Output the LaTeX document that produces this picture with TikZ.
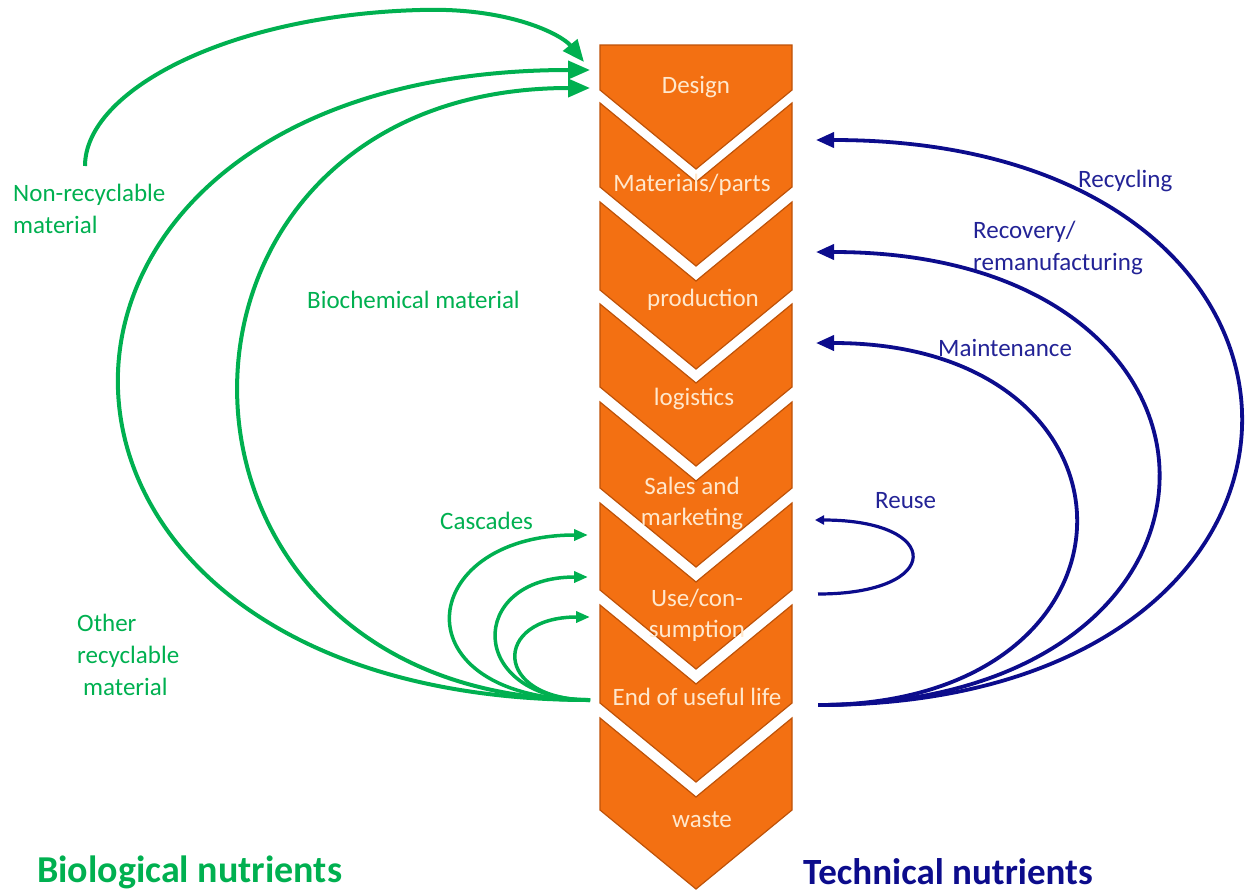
\documentclass[tikz,border=0pt]{standalone}
\usepackage{fontspec}
\setmainfont{Carlito}
\usetikzlibrary{arrows.meta}
\definecolor{chevfill}{RGB}{243,112,18}
\definecolor{chevedge}{RGB}{190,82,8}
\definecolor{chevtext}{RGB}{255,232,205}
\definecolor{bio}{RGB}{0,176,80}
\definecolor{tech}{RGB}{12,12,140}
\definecolor{techtxt}{RGB}{35,35,150}
\begin{document}
\begin{tikzpicture}[x=1pt,y=-1pt,
  chevron/.style={fill=chevfill, draw=chevedge, line width=1.2pt, line join=miter},
  stage/.style={text=chevtext, font=\fontsize{25}{31}\selectfont, align=center, inner sep=0pt},
  biolabel/.style={text=bio, font=\fontsize{25}{32}\selectfont, inner sep=0pt},
  techlabel/.style={text=techtxt, font=\fontsize{25}{32}\selectfont, inner sep=0pt},
  biotitle/.style={text=bio, font=\bfseries\fontsize{38}{44}\selectfont, inner sep=0pt},
  techtitle/.style={text=tech, font=\bfseries\fontsize{37}{44}\selectfont, inner sep=0pt},
  bioflow/.style={draw=bio, line width=4pt, -{Triangle[length=22pt,width=18pt]}},
  casflow/.style={draw=bio, line width=3.5pt, -{Triangle[length=14pt,width=11pt]}},
  techflow/.style={draw=tech, line width=3.8pt, -{Triangle[length=18pt,width=15pt]}},
  reuseflow/.style={draw=tech, line width=3.2pt, -{Triangle[length=9pt,width=9pt]}}
]
\useasboundingbox (0,0) rectangle (1245,892);

% stage column: flat-topped first chevron, then notched chevrons
\path[chevron] (600,45) -- (792,45) -- (792,90) -- (696,169) -- (600,90) -- cycle;
\foreach \ts/\bs in {103/187, 202/290, 304/387, 402/488, 503/590, 605/703, 718/810}{
  \path[chevron] (600,\ts) -- (696,{\ts+79}) -- (792,\ts) -- (792,\bs)
     -- (696,{\bs+79}) -- (600,\bs) -- cycle;
}

% stage names
\node[stage] (design)     at (696,87)  {Design};
\node[stage] (materials)  at (692,185) {Materials/parts};
\node[stage] (production) at (703,300) {production};
\node[stage] (logistics)  at (694,399) {logistics};
\node[stage] (sales)      at (692,503) {Sales and\\marketing};
\node[stage] (use)        at (697,615) {Use/con-\\sumption};
\node[stage] (eol)        at (697,697) {End of useful life};
\node[stage] (waste)      at (702,820) {waste};

% loop labels
\node[biolabel, align=left, anchor=west] (nonrec) at (13,209) {Non-recyclable\\material};
\node[biolabel, anchor=west] (biochem) at (307,300) {Biochemical material};
\node[biolabel, anchor=west] (cascades) at (440,521) {Cascades};
\node[biolabel, align=left, anchor=west] (otherrec) at (77,655) {Other\\recyclable\\\hspace*{6pt}material};
\node[techlabel, anchor=west] (recycling) at (1078,181) {Recycling};
\node[techlabel, align=left, anchor=west] (recovery) at (973,248) {Recovery/\\remanufacturing};
\node[techlabel, anchor=west] (maint) at (938,348) {Maintenance};
\node[techlabel, anchor=west] (reuse) at (875,501) {Reuse};

% headings
\node[biotitle, anchor=base west] (biohead) at (37,882) {Biological nutrients};
\node[techtitle, anchor=base west] (techhead) at (803,884) {Technical nutrients};

% connector end points
\coordinate (bioout) at (590,700);
\coordinate (techout) at (818,705);
\coordinate (nrstart) at (85,166);
\coordinate (tipA) at (584,62);
\coordinate (tipB) at (590,70);
\coordinate (tipC) at (590,88);
\coordinate (casA) at (588,535);
\coordinate (casB) at (588,577);
\coordinate (casC) at (590,617);
\coordinate (recyc) at (816,140);
\coordinate (recov) at (816,252);
\coordinate (maintt) at (816,343);
\coordinate (reusein) at (818,594);
\coordinate (reuseout) at (815,520);

% biological loops
\draw[bioflow] (nrstart) .. controls (85,90) and (230,15) .. (420,10)
   .. controls (510,7) and (562,35) .. (tipA);
\draw[bioflow] (bioout) .. controls (-36,700) and (-36,70) .. (tipB);
\draw[bioflow] (bioout) .. controls (123,700) and (123,88) .. (tipC);
\draw[casflow] (bioout) .. controls (395,700) and (415,535) .. (casA);
\draw[casflow] (bioout) .. controls (466,700) and (466,577) .. (casB);
\draw[casflow] (bioout) .. controls (492,700) and (492,617) .. (casC);

% technical loops
\draw[techflow] (techout) .. controls (1381,705) and (1381,140) .. (recyc);
\draw[techflow] (techout) .. controls (1271,705) and (1271,252) .. (recov);
\draw[techflow] (techout) .. controls (1161,705) and (1161,343) .. (maintt);
\draw[reuseflow] (reusein) .. controls (944,594) and (944,520) .. (reuseout);
\end{tikzpicture}
\end{document}
